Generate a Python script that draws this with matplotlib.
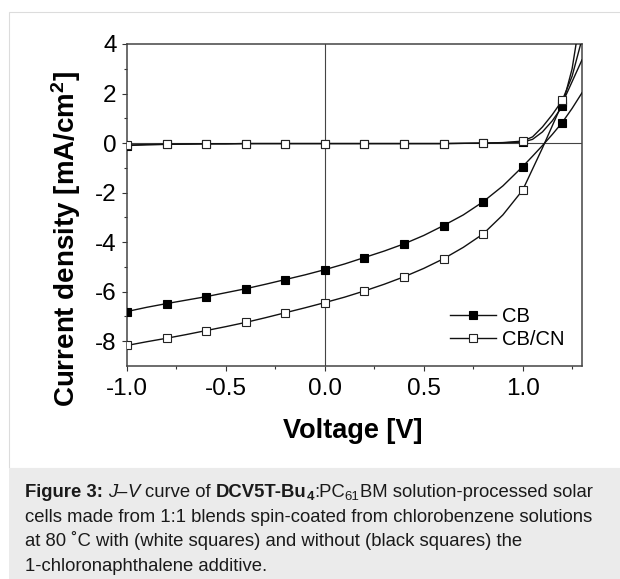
import numpy as np
import matplotlib.pyplot as plt
from matplotlib.patches import Rectangle

plt.rcParams['font.family'] = ['Liberation Sans', 'DejaVu Sans']
plt.rcParams['axes.unicode_minus'] = False
plt.rcParams['mathtext.fontset'] = 'custom'
plt.rcParams['mathtext.rm'] = 'Liberation Sans'
plt.rcParams['mathtext.bf'] = 'Liberation Sans:bold'
plt.rcParams['mathtext.it'] = 'Liberation Sans:italic'

# voltage grid of the read points [V]
voltage = [-1.0, -0.9, -0.8, -0.7, -0.6, -0.5, -0.4, -0.3, -0.2, -0.1, 0.0,
           0.1, 0.2, 0.3, 0.4, 0.5, 0.6, 0.7, 0.8, 0.9, 1.0,
           1.05, 1.1, 1.15, 1.2, 1.25, 1.3]

# current density [mA/cm2], illuminated
j_cb = [-6.80, -6.63, -6.48, -6.34, -6.20, -6.04, -5.88, -5.70, -5.51, -5.32, -5.11,
        -4.88, -4.62, -4.36, -4.07, -3.73, -3.33, -2.90, -2.37, -1.73, -0.95,
        -0.53, -0.10, 0.35, 0.83, 1.40, 2.03]
j_cbcn = [-8.17, -8.02, -7.88, -7.73, -7.57, -7.41, -7.24, -7.05, -6.85, -6.65, -6.44,
          -6.22, -5.97, -5.70, -5.40, -5.06, -4.67, -4.21, -3.67, -2.90, -1.90,
          -1.05, -0.20, 0.70, 1.60, 2.48, 3.36]

# current density [mA/cm2], dark
j_cb_dark = [-0.10, -0.07, -0.05, -0.04, -0.03, -0.03, -0.02, -0.02, -0.02, -0.02, -0.02,
             -0.02, -0.02, -0.02, -0.02, -0.02, -0.02, -0.01, 0.0, 0.01, 0.04,
             0.15, 0.45, 0.90, 1.48, 3.00, 5.50]
j_cbcn_dark = [-0.08, -0.06, -0.05, -0.04, -0.03, -0.03, -0.02, -0.02, -0.02, -0.02, -0.02,
               -0.02, -0.02, -0.02, -0.02, -0.02, -0.02, -0.01, 0.0, 0.02, 0.08,
               0.25, 0.65, 1.15, 1.72, 2.70, 4.20]

labels = ["CB", "CB/CN"]

caption = [
    "cells made from 1:1 blends spin-coated from chlorobenzene solutions",
    "at 80 \u02daC with (white squares) and without (black squares) the",
    "1-chloronaphthalene additive.",
]

W, H = 620, 579
fig = plt.figure(figsize=(W / 100, H / 100), dpi=100)

# light frame and grey caption panel
fig.add_artist(Rectangle((9 / W, 1 - 468 / H), 1.2, 456 / H, transform=fig.transFigure,
                         fill=False, ec='#dcdcdc', lw=0.8))
fig.add_artist(Rectangle((9 / W, 0), 1.2, 1 - 468 / H, transform=fig.transFigure,
                         fc='#ebebeb', ec='none'))

ax = fig.add_axes([127 / W, 1 - 366 / H, 455 / W, 322 / H])

v = np.array(voltage)
marks = [i for i, x in enumerate(v) if abs(round((x + 1) / 0.2) * 0.2 - (x + 1)) < 1e-6]

ax.axhline(0, color='#444444', lw=0.8, zorder=1)
ax.axvline(0, color='#444444', lw=0.8, zorder=1)

style = dict(color='#111111', lw=1.0, marker='s', ms=5.2, mew=0.8, markevery=marks, zorder=3)
l_cb, = ax.plot(v, j_cb, mfc='black', mec='black', **style)
l_cbcn, = ax.plot(v, j_cbcn, mfc='white', mec='#222222', **style)
ax.plot(v, j_cb_dark, mfc='black', mec='black', **style)
ax.plot(v, j_cbcn_dark, mfc='white', mec='#222222', **style)

ax.set_xlim(-1.0, 1.3)
ax.set_ylim(-9, 4)
ax.set_xticks([-1.0, -0.5, 0.0, 0.5, 1.0])
ax.set_xticklabels(["-1.0", "-0.5", "0.0", "0.5", "1.0"])
ax.set_xticks([-0.75, -0.25, 0.25, 0.75, 1.25], minor=True)
ax.set_yticks([4, 2, 0, -2, -4, -6, -8])
ax.set_yticks([3, 1, -1, -3, -5, -7], minor=True)
ax.tick_params(which='both', direction='out', width=0.8, color='#333333',
               labelsize=17.5, top=False, right=False)
ax.tick_params(which='major', length=3.5)
ax.tick_params(which='minor', length=2.2)
ax.tick_params(axis='x', pad=5)
ax.tick_params(axis='y', pad=4)
for s in ax.spines.values():
    s.set_color('#444444')
    s.set_linewidth(1.1)

ax.set_xlabel("Voltage [V]", fontsize=19.5, fontweight='bold', va='center')
ax.xaxis.set_label_coords(0.497, -0.203)
ax.set_ylabel(r"Current density [mA/cm$^{\mathbf{2}}$]", fontsize=20,
              fontweight='bold', va='center')
ax.yaxis.set_label_coords(-0.133, 0.395)

ax.legend([l_cb, l_cbcn], labels, loc='center left', bbox_to_anchor=(0.71, 0.118),
          frameon=False, fontsize=14.5, handlelength=2.3, handletextpad=0.3,
          labelspacing=0.22, borderpad=0, borderaxespad=0, numpoints=1)

# caption with mixed styles
renderer = fig.canvas.get_renderer()
cap_size = 13.3


def text_width(s, **kw):
    t = fig.text(0, 0, s, fontsize=kw.pop('size', cap_size), **kw)
    w = t.get_window_extent(renderer).width
    t.remove()
    return w


space = text_width("a a") - text_width("aa")

pieces = [
    ("Figure 3:", dict(fontweight='bold')), (" ", {}),
    ("J", dict(fontstyle='italic')), ("\u2013", {}), ("V", dict(fontstyle='italic')),
    (" ", {}), ("curve of", {}), (" ", {}),
    ("DCV5T-Bu", dict(fontweight='bold')), ("4", dict(fontweight='bold', size=9.5, dy=3)),
    (":PC", {}), ("61", dict(size=9.5, dy=3)), ("BM solution-processed solar", {}),
]

x = 25.0
for s, kw in pieces:
    if s == " ":
        x += space
        continue
    kw = dict(kw)
    dy = kw.pop('dy', 0)
    size = kw.pop('size', cap_size)
    t = fig.text(x / W, 1 - (497 + dy) / H, s, fontsize=size, va='baseline', ha='left',
                 color='#1a1a1a', **kw)
    x += t.get_window_extent(renderer).width

for i, line in enumerate(caption):
    fig.text(25 / W, 1 - (522 + 24.3 * i) / H, line, fontsize=cap_size,
             va='baseline', ha='left', color='#1a1a1a')

fig.savefig("out.png", dpi=100)
